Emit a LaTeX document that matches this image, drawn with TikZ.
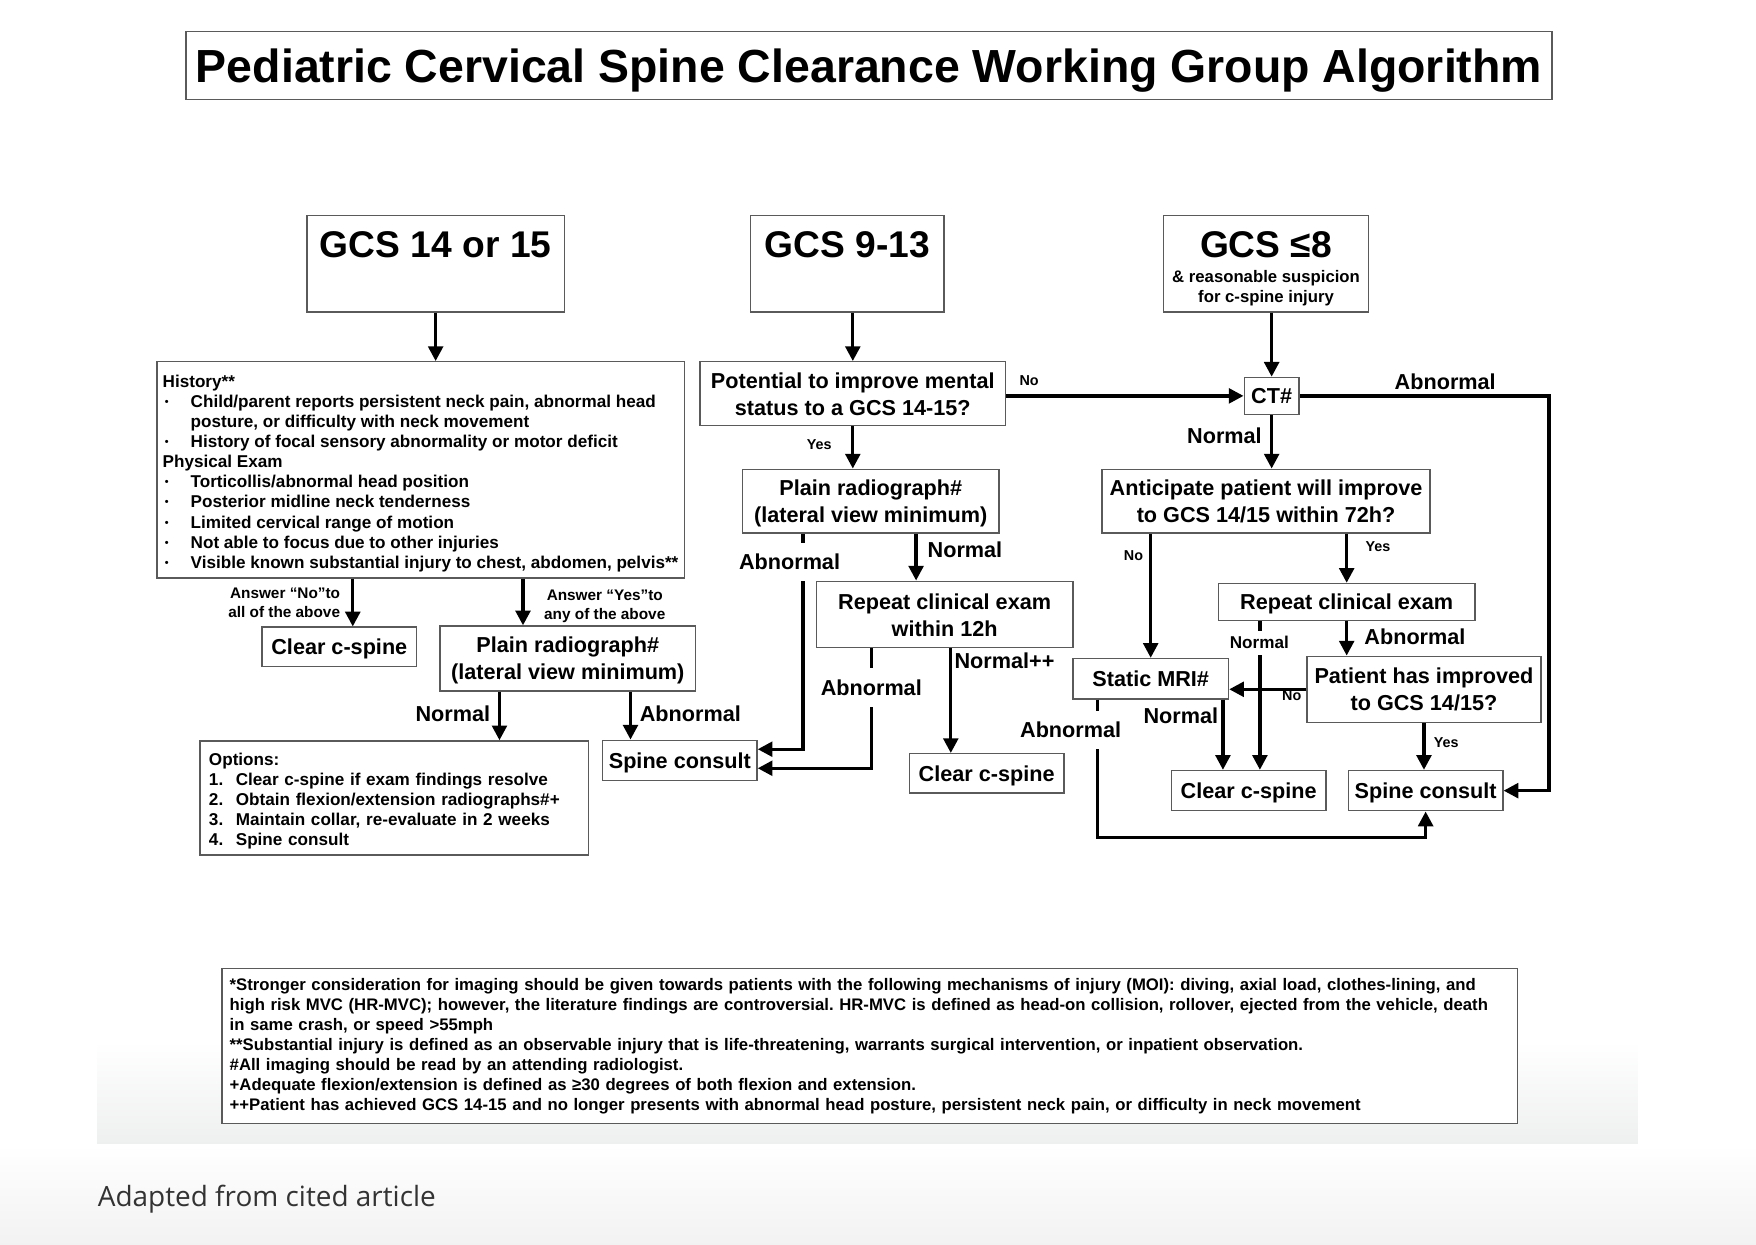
\documentclass[tikz,border=0pt]{standalone}
\usepackage{fontspec}
\setmainfont{Liberation Sans}
\newfontfamily\capfont{Open Sans}
\usetikzlibrary{arrows.meta,positioning,calc}

\definecolor{boxgray}{RGB}{90,90,90}
\definecolor{panelgray}{RGB}{238,239,239}
\definecolor{capgray}{RGB}{51,51,51}

\newcommand{\titlef}{\fontsize{23.6}{28}\selectfont\bfseries}
\newcommand{\bigf}{\fontsize{18.9}{22}\selectfont\bfseries}
\newcommand{\mainf}{\fontsize{11}{13.8}\selectfont\bfseries}
\newcommand{\smallf}{\fontsize{8.7}{10.2}\selectfont\bfseries}
\newcommand{\notef}{\fontsize{8.5}{10.2}\selectfont\bfseries\frenchspacing}
\newcommand{\ansf}{\fontsize{7.8}{9.6}\selectfont\bfseries}
\newcommand{\tinyf}{\fontsize{7.3}{8.8}\selectfont\bfseries}
\newcommand{\blt}{\makebox[0.5cm][l]{\hspace{0.04cm}\raisebox{1pt}{\fontsize{5.5}{5}\selectfont •}}}
\newcommand{\num}[1]{\makebox[0.48cm][l]{#1}}

\tikzset{
  box/.style={draw=boxgray, line width=0.7pt, inner sep=0pt, align=center, font=\mainf},
  single/.style={box, text depth=0pt},
  arr/.style={line width=1.7pt, -{Triangle[length=7.5pt,width=7.5pt]}},
  lab/.style={inner sep=0pt, font=\mainf},
  gap/.style={fill=white, inner xsep=1pt, inner ysep=0.2cm, font=\mainf},
}

\begin{document}
\begin{tikzpicture}[x=0.02cm,y=-0.02cm]
\useasboundingbox (0,0) rectangle (1568,1111);
% background
\shade[top color=white,bottom color=panelgray] (87,930) rectangle (1462,1022);
\shade[top color=white,bottom color=black!5] (0,1022) rectangle (1568,1111);

% title
\node[single, minimum width=24.4cm, minimum height=1.22cm, font=\titlef] (Title) at (776,58.5) {Pediatric Cervical Spine Clearance Working Group Algorithm};

% GCS 14 or 15
\node[box, anchor=north] (GCSHigh) at (389,192) {\parbox[t][1.72cm][t]{4.6cm}{\centering\rule{0pt}{0.74cm}\bigf GCS 14 or 15}};
\node[box, minimum width=9.42cm, minimum height=3.86cm, align=left, font=\smallf] (History) at (375.5,419.5) {\rule{0pt}{10pt}History**\\
\blt Child/parent reports persistent neck pain, abnormal head\\
\hspace*{0.5cm}posture, or difficulty with neck movement\\
\blt History of focal sensory abnormality or motor deficit\\
Physical Exam\\
\blt Torticollis/abnormal head position\\
\blt Posterior midline neck tenderness\\
\blt Limited cervical range of motion\\
\blt Not able to focus due to other injuries\\
\blt Visible known substantial injury to chest, abdomen, pelvis**};
\node[single, minimum width=2.76cm, minimum height=0.70cm] (ClearA) at (303,577.5) {Clear c-spine};
\node[box, minimum width=4.56cm, minimum height=1.16cm] (RadioA) at (507,588) {\rule{0pt}{10pt}Plain radiograph\#\\(lateral view minimum)};
\node[box, anchor=north west, text width=6.62cm, minimum height=2.04cm, inner xsep=0.16cm, align=left, font=\smallf] (Options) at (178,661) {\rule{0pt}{9.5pt}Options:\\
\num{1.}Clear c-spine if exam findings resolve\\
\num{2.}Obtain flexion/extension radiographs\#+\\
\num{3.}Maintain collar, re-evaluate in 2 weeks\\
\num{4.}Spine consult};
\node[single, minimum width=2.76cm, minimum height=0.72cm] (SpineA) at (607,679) {Spine consult};

% GCS 9-13
\node[box, anchor=north] (GCSMid) at (756.5,192) {\parbox[t][1.72cm][t]{3.46cm}{\centering\rule{0pt}{0.74cm}\bigf GCS 9-13}};
\node[box, minimum width=5.46cm, minimum height=1.14cm] (Improve) at (761.5,351.5) {\rule{0pt}{9pt}Potential to improve mental\\status to a GCS 14-15?};
\node[box, minimum width=4.58cm, minimum height=1.14cm] (RadioB) at (777.5,447.5) {\rule{0pt}{10pt}Plain radiograph\#\\(lateral view minimum)};
\node[box, minimum width=4.58cm, minimum height=1.18cm] (RepeatA) at (843.5,548.5) {\rule{0pt}{9pt}Repeat clinical exam\\within 12h};
\node[single, minimum width=2.76cm, minimum height=0.70cm] (ClearB) at (881,690.5) {Clear c-spine};

% GCS <= 8
\node[box, anchor=north] (GCSLow) at (1130.5,192) {\parbox[t][1.72cm][t]{3.66cm}{\centering\rule{0pt}{0.74cm}\bigf GCS ≤8\par\vspace{0.1cm}\fontsize{8.5}{10.2}\selectfont\bfseries \& reasonable suspicion\\for c-spine injury}};
\node[single, minimum width=0.98cm, minimum height=0.66cm] (CT) at (1135.5,353.5) {CT\#};
\node[box, minimum width=5.86cm, minimum height=1.14cm] (Anticipate) at (1130.5,447.5) {Anticipate patient will improve\\to GCS 14/15 within 72h?};
\node[single, minimum width=4.58cm, minimum height=0.66cm] (RepeatB) at (1202.5,537.5) {Repeat clinical exam};
\node[box, minimum width=4.18cm, minimum height=1.18cm] (Improved) at (1271.5,615.5) {Patient has improved\\to GCS 14/15?};
\node[single, minimum width=2.78cm, minimum height=0.72cm] (MRI) at (1027.5,606) {Static MRI\#};
\node[single, minimum width=2.76cm, minimum height=0.72cm] (ClearC) at (1115,706) {Clear c-spine};
\node[single, minimum width=2.76cm, minimum height=0.72cm] (SpineC) at (1273,706) {Spine consult};

% footnotes
\node[box, fill=white, text width=22.86cm, inner xsep=0.14cm, minimum height=2.76cm, align=left, font=\notef] (Notes) at (776.5,934) {*Stronger consideration for imaging should be given towards patients with the following mechanisms of injury (MOI): diving, axial load, clothes-lining, and\\
high risk MVC (HR-MVC); however, the literature findings are controversial. HR-MVC is defined as head-on collision, rollover, ejected from the vehicle, death\\
in same crash, or speed >55mph\\{}
**Substantial injury is defined as an observable injury that is life-threatening, warrants surgical intervention, or inpatient observation.\\
\#All imaging should be read by an attending radiologist.\\
+Adequate flexion/extension is defined as ≥30 degrees of both flexion and extension.\\
++Patient has achieved GCS 14-15 and no longer presents with abnormal head posture, persistent neck pain, or difficulty in neck movement};
\node[anchor=base west, inner sep=0pt, text=capgray, font=\capfont\fontsize{14.2}{17}\selectfont] (Source) at (87,1077) {Adapted from cited article};

% lanes for the connectors
\coordinate (laneNo) at (315,0);
\coordinate (laneYes) at (467,0);
\coordinate (laneNormA) at (446,0);
\coordinate (laneAbA) at (563,0);
\coordinate (laneAbB) at (717,0);
\coordinate (laneNormB) at (818,0);
\coordinate (laneAbC) at (778,0);
\coordinate (laneNormC) at (849,0);
\coordinate (laneCT) at (1383,0);
\coordinate (laneNormD) at (1125,0);
\coordinate (laneNormE) at (1092,0);
\coordinate (laneAbD) at (980,0);
\coordinate (laneLow) at (0,748);

\draw[arr] (GCSHigh.south) -- (GCSHigh.south |- History.north);
\draw[arr] (History.south -| laneNo) -- (ClearA.north -| laneNo);
\draw[arr] (History.south -| laneYes) -- (RadioA.north -| laneYes);
\draw[arr] (RadioA.south -| laneNormA) -- (Options.north -| laneNormA);
\draw[arr] (RadioA.south -| laneAbA) -- (SpineA.north -| laneAbA);

\draw[arr] (GCSMid.south -| Improve) -- (Improve.north);
\draw[arr] (Improve.south) -- (RadioB.north -| Improve);
\draw[arr] (RadioB.south -| laneAbB) |- ([yshift=0.2cm]SpineA.east);
\draw[arr] (RadioB.south -| laneNormB) -- (RepeatA.north -| laneNormB);
\draw[arr] (RepeatA.south -| laneAbC) |- ([yshift=-0.14cm]SpineA.east);
\draw[arr] (RepeatA.south -| laneNormC) -- (ClearB.north -| laneNormC);
\draw[arr] (Improve.east |- CT) -- (CT.west);

\draw[arr] (GCSLow.south -| CT) -- (CT.north);
\draw[arr] (CT.south) -- (Anticipate.north -| CT);
\draw[arr] (CT.east) -| (laneCT |- SpineC.east) -- (SpineC.east);
\draw[arr] (Anticipate.south -| MRI) -- (MRI.north);
\draw[arr] (Anticipate.south -| RepeatB) -- (RepeatB.north);
\draw[arr] (RepeatB.south) -- (Improved.north -| RepeatB);
\draw[arr] (RepeatB.south -| laneNormD) -- (ClearC.north -| laneNormD);
\draw[arr] (Improved.west) -- (Improved.west -| MRI.east);
\draw[arr] (MRI.south -| laneNormE) -- (ClearC.north -| laneNormE);
\draw[arr] (MRI.south -| laneAbD) |- (laneLow -| SpineC) -- (SpineC.south);
\draw[arr] (Improved.south) -- (SpineC.north -| Improved);

% labels
\node[anchor=east, align=right, font=\ansf, inner sep=0pt] (AnsNo) at (304,538.5) {Answer “No”to\\all of the above};
\node[align=center, font=\ansf, inner sep=0pt] (AnsYes) at (540,541.5) {Answer “Yes”to\\any of the above};
\node[lab, anchor=east] (NormA) at (438,637) {Normal};
\node[lab, anchor=west] (AbA) at (571,637) {Abnormal};
\node[lab, anchor=west, font=\tinyf] (NoA) at (910,340) {No};
\node[lab, anchor=east, font=\tinyf] (YesA) at (743,397) {Yes};
\node[gap] (AbB) at (705,502) {Abnormal};
\node[lab, anchor=west] (NormB) at (828,491) {Normal};
\node[gap] (AbC) at (778,614) {Abnormal};
\node[lab, anchor=west] (NormC) at (852,590) {Normal++};
\node[lab] (AbCT) at (1290.5,341) {Abnormal};
\node[lab, anchor=east] (NormCT) at (1127,389) {Normal};
\node[lab, anchor=east, font=\tinyf] (NoB) at (1021,496) {No};
\node[lab, anchor=west, font=\tinyf] (YesB) at (1219,488) {Yes};
\node[lab, anchor=west] (AbE) at (1218,569) {Abnormal};
\node[gap, font=\smallf, inner ysep=0.1cm] (NormD) at (1124.5,574) {Normal};
\node[lab, font=\tinyf] (NoC) at (1153.5,621) {No};
\node[lab, anchor=east] (NormE) at (1088,639) {Normal};
\node[gap] (AbD) at (956,652) {Abnormal};
\node[lab, anchor=west, font=\tinyf] (YesC) at (1280,663) {Yes};
\end{tikzpicture}
\end{document}
